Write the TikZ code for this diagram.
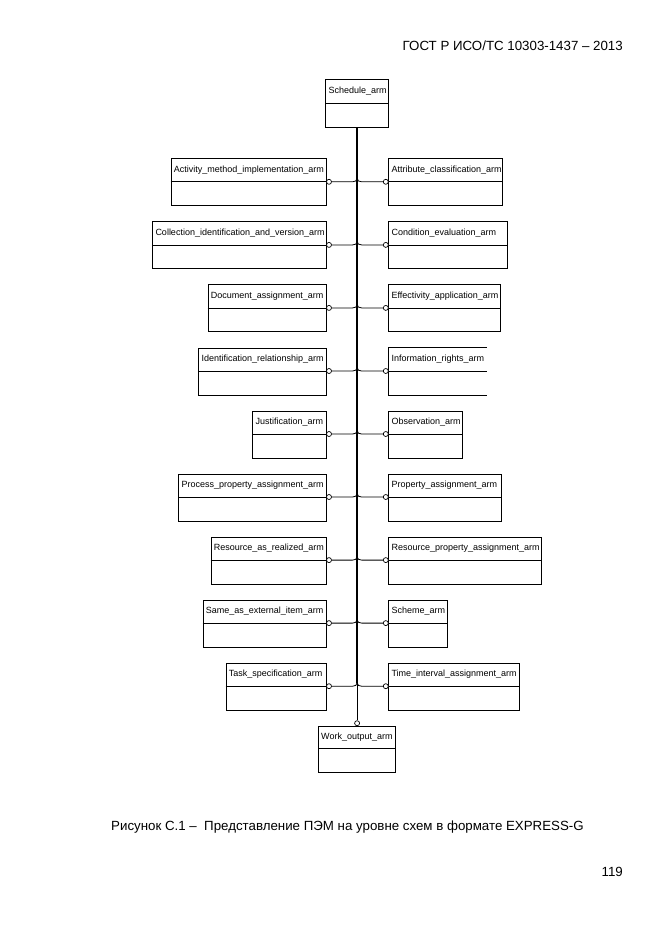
\documentclass[tikz,border=0pt]{standalone}
\usepackage{fontspec}
\setmainfont{Liberation Sans}
\tikzset{
  ent/.style={draw, line width=0.8pt, minimum height=47pt, inner sep=0pt, anchor=north west},
  divl/.style={line width=0.8pt},
  lab/.style={anchor=west, inner sep=0pt, font=\fontsize{9}{10}\selectfont},
  circ/.style={circle, draw, line width=0.7pt, fill=white, inner sep=0pt, minimum size=5pt},
  conn/.style={line width=0.8pt},
  trunkl/.style={line width=2.4pt},
  pagetext/.style={inner sep=0pt, font=\fontsize{13.3}{15}\selectfont},
}
\newcommand\entbox[5]{%
  \node[ent, minimum width=#4pt] (#1) at (#2,#3) {};
  \draw[divl] ([yshift=-23.5pt]#1.north west) -- ([yshift=-23.5pt]#1.north east);
  \node[lab] (#1t) at ([xshift=3pt,yshift=-11.75pt]#1.north west) {#5};
}
\newcommand\rowconn[3]{% left box, right box, index
  \node[circ] (cl#3) at ([xshift=2.5pt,yshift=-23.5pt]#1.north east) {};
  \node[circ] (cr#3) at ([xshift=-2.5pt,yshift=-23.5pt]#2.north west) {};
  \path (sched.south |- cl#3) ++(0,-3.5) coordinate (j#3);
  \draw[conn] (j#3) .. controls +(0,2.5) and +(2.5,0) .. ++(-4.5,3.5) -- (cl#3.east);
  \draw[conn] (j#3) .. controls +(0,2.5) and +(-2.5,0) .. ++(4.5,3.5) -- (cr#3.west);
}
\begin{document}
\begin{tikzpicture}[x=1pt,y=-1pt]
\useasboundingbox (0,0) rectangle (661,935);

% header, caption, page number
\node[pagetext, anchor=east] (hdr) at (623,46) {ГОСТ Р ИСО/ТС 10303-1437 – 2013};
\node[pagetext, anchor=west] (cap) at (111,827) {Рисунок С.1 –~~Представление ПЭМ на уровне схем в формате EXPRESS-G};
\node[pagetext, anchor=east] (pg) at (623,872) {119};

% top and bottom entities
\node[ent, minimum width=62.6pt, minimum height=48pt] (sched) at (325.4,79.3) {};
\draw[divl] ([yshift=-24pt]sched.north west) -- ([yshift=-24pt]sched.north east);
\node[lab] (schedt) at ([xshift=3pt,yshift=-12pt]sched.north west) {Schedule\_arm};

\node[ent, minimum width=77.4pt, minimum height=46.6pt] (work) at (318,725.7) {};
\draw[divl] ([yshift=-22.8pt]work.north west) -- ([yshift=-22.8pt]work.north east);
\node[lab] (workt) at ([xshift=3pt,yshift=-11.4pt]work.north west) {Work\_output\_arm};

% left column
\entbox{l1}{170.7}{158.3}{155}{Activity\_method\_implementation\_arm}
\entbox{l2}{152.3}{221.4}{173.4}{Collection\_identification\_and\_version\_arm}
\entbox{l3}{207.7}{284.4}{118}{Document\_assignment\_arm}
\entbox{l4}{198.3}{347.5}{127.4}{Identification\_relationship\_arm}
\entbox{l5}{252.3}{410.5}{73.4}{Justification\_arm}
\entbox{l6}{178.3}{473.5}{147.4}{Process\_property\_assignment\_arm}
\entbox{l7}{210.7}{536.6}{115}{Resource\_as\_realized\_arm}
\entbox{l8}{202.7}{599.6}{123}{Same\_as\_external\_item\_arm}
\entbox{l9}{225.7}{662.7}{100}{Task\_specification\_arm}

% right column
\entbox{r1}{388.3}{158.3}{114}{Attribute\_classification\_arm}
\entbox{r2}{388.3}{221.4}{118.4}{Condition\_evaluation\_arm}
\entbox{r3}{388.3}{284.4}{111.7}{Effectivity\_application\_arm}
% Information_rights_arm: right edge not drawn
\node[ent, draw=none, minimum width=97.7pt] (r4) at (388.3,347.5) {};
\draw[divl] (r4.north east) -- (r4.north west) -- (r4.south west) -- (r4.south east);
\draw[divl] ([yshift=-23.5pt]r4.north west) -- ([yshift=-23.5pt]r4.north east);
\node[lab] (r4t) at ([xshift=3pt,yshift=-11.75pt]r4.north west) {Information\_rights\_arm};
\entbox{r5}{388.3}{410.5}{74}{Observation\_arm}
\entbox{r6}{388.3}{473.5}{112.4}{Property\_assignment\_arm}
\entbox{r7}{388.3}{536.6}{152.4}{Resource\_property\_assignment\_arm}
\entbox{r8}{388.3}{599.6}{59}{Scheme\_arm}
\entbox{r9}{388.3}{662.7}{130.7}{Time\_interval\_assignment\_arm}

% connectors
\rowconn{l1}{r1}{1}
\rowconn{l2}{r2}{2}
\rowconn{l3}{r3}{3}
\rowconn{l4}{r4}{4}
\rowconn{l5}{r5}{5}
\rowconn{l6}{r6}{6}
\rowconn{l7}{r7}{7}
\rowconn{l8}{r8}{8}
\rowconn{l9}{r9}{9}

\node[circ] (cw) at ([yshift=2.5pt]work.north) {};
\draw[trunkl] (sched.south) -- (j9);
\draw[conn] (j9) -- (cw.north);
\end{tikzpicture}
\end{document}
